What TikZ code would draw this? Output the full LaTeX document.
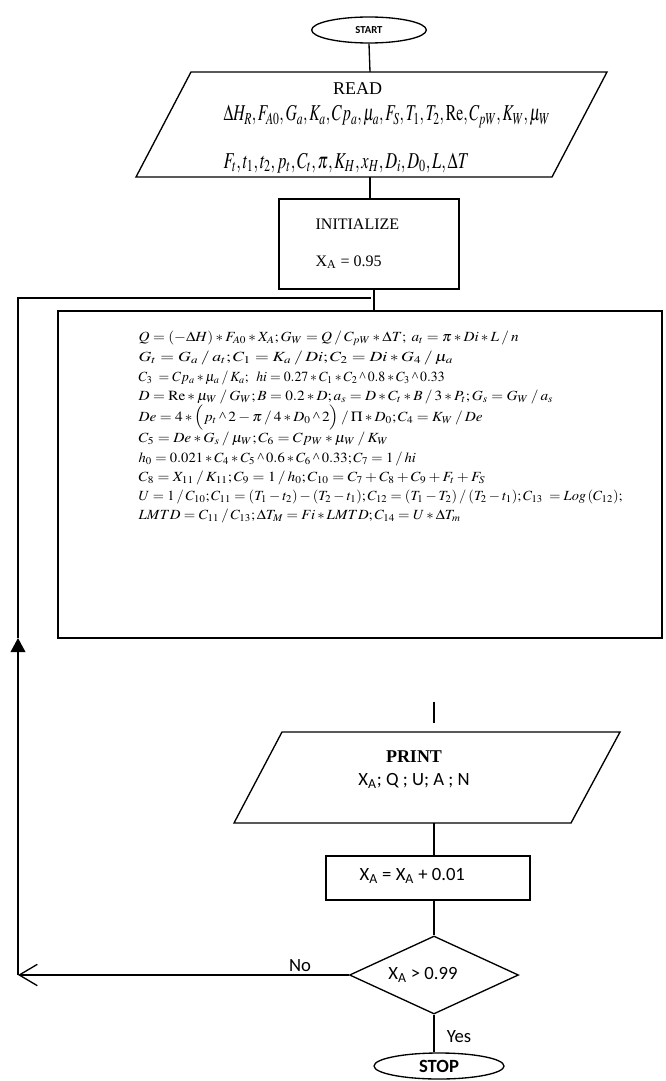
\documentclass[tikz,border=0pt]{standalone}
\usepackage{mathptmx}
\usepackage{fontspec}
\setmainfont{Liberation Serif}
\newfontfamily\calibri{Carlito}
\usetikzlibrary{shapes.geometric,arrows.meta}
\newcommand{\crt}{\mathbin{\mbox{\textasciicircum}}}
\newcommand{\dvd}{\mathbin{/}}
\newcommand{\eqln}[4]{\node[inner sep=0pt,anchor=base west] (#1) at (138,#2) {\fontsize{10.5}{12}\selectfont\resizebox{#3}{\height}{$#4$}};}
\begin{document}
\begin{tikzpicture}[x=0.75pt,y=-0.75pt,line width=1pt,
  box/.style={draw,rectangle,inner sep=0pt},
  term/.style={draw,ellipse,inner sep=0pt},
  lbl/.style={inner sep=0pt,font=\calibri\fontsize{14}{16}\selectfont},
  txt/.style={inner sep=0pt}]
\path[use as bounding box] (0,0) rectangle (666,1081);
% START
\node[term,minimum width=86pt,minimum height=19.5pt,font=\calibri\bfseries\fontsize{8}{9}\selectfont] (start) at (369,30) {START};
% READ
\coordinate (rTL) at (191,72); \coordinate (rTR) at (607,72);
\coordinate (rBR) at (552,177); \coordinate (rBL) at (136,177);
\draw (rTL) -- (rTR) -- (rBR) -- (rBL) -- cycle;
\coordinate (readT) at (370,72); \coordinate (readB) at (370,177);
\node[txt,anchor=base,font=\fontsize{13.5}{15}\selectfont] (readlbl) at (357.5,94) {READ};
\node[txt,anchor=base west] (rl1) at (223,121) {\fontsize{17}{19}\selectfont\resizebox{245pt}{\height}{$\Delta H_{R},F_{A0},G_{a},K_{a},Cp_{a},\mu_{a},F_{S},T_{1},T_{2},\mathrm{Re},C_{pW},K_{W},\mu_{W}$}};
\node[txt,anchor=base west] (rl2) at (223,168) {\fontsize{17}{19}\selectfont\resizebox{184pt}{\height}{$F_{t},t_{1},t_{2},p_{t},C_{t},\pi,K_{H},x_{H},D_{i},D_{0},L,\Delta T$}};
% INITIALIZE
\node[box,minimum width=135pt,minimum height=67.5pt] (init) at (369,244) {};
\node[txt,anchor=base west,font=\fontsize{12}{14}\selectfont] (initlbl) at (315,229) {INITIALIZE};
\node[txt,anchor=base west,font=\fontsize{12}{14}\selectfont] (initval) at (315,266) {X\textsubscript{A} = 0.95};
% calculation box
\node[box,minimum width=453pt,minimum height=245.25pt] (calc) at (360,474.5) {};
\eqln{e1}{341}{285pt}{Q=(-\Delta H)*F_{A0}*X_{A};G_{W}=Q\dvd C_{pW}*\Delta T;\; a_{t}=\pi*Di*L\dvd n}
\eqln{e2}{361}{236pt}{G_{t}=G_{a}\dvd a_{t};C_{1}=K_{a}\dvd Di;C_{2}=Di*G_{4}\dvd\mu_{a}}
\eqln{e3}{381}{229.5pt}{C_{3}\;=Cp_{a}*\mu_{a}\dvd K_{a};\;\; hi=0.27*C_{1}*C_{2}\crt 0.8*C_{3}\crt 0.33}
\eqln{e4}{400}{311pt}{D=\mathrm{Re}*\mu_{W}\dvd G_{W};B=0.2*D;a_{s}=D*C_{t}*B\dvd 3*P_{t};G_{s}=G_{W}\dvd a_{s}}
\eqln{e5}{421}{258pt}{De=4*\Bigl(p_{t}\crt 2-\pi\dvd 4*D_{0}\crt 2\Bigr)\dvd\Pi*D_{0};C_{4}=K_{W}\dvd De}
\eqln{e6}{442}{187.5pt}{C_{5}=De*G_{s}\dvd\mu_{W};C_{6}=Cp_{W}*\mu_{W}\dvd K_{W}}
\eqln{e7}{462}{208pt}{h_{0}=0.021*C_{4}*C_{5}\crt 0.6*C_{6}\crt 0.33;C_{7}=1\dvd hi}
\eqln{e8}{481}{260pt}{C_{8}=X_{11}\dvd K_{11};C_{9}=1\dvd h_{0};C_{10}=C_{7}+C_{8}+C_{9}+F_{t}+F_{S}}
\eqln{e9}{500}{363pt}{U=1\dvd C_{10};C_{11}=(T_{1}-t_{2})-(T_{2}-t_{1});C_{12}=(T_{1}-T_{2})\dvd(T_{2}-t_{1});C_{13}\;=\mathit{Log}\,(C_{12});}
\eqln{e10}{519}{241.5pt}{LMTD=C_{11}\dvd C_{13};\Delta T_{M}=Fi*LMTD;C_{14}=U*\Delta T_{m}}
% loop
\coordinate (loopB) at (18,975); \coordinate (arrowT) at (18,638);
\coordinate (loopT) at (18,298); \coordinate (loopE) at (371,298);
% free segment
\coordinate (segA) at (434,702); \coordinate (segB) at (434,723);
% PRINT
\coordinate (pTL) at (282,732); \coordinate (pTR) at (620,732);
\coordinate (pBR) at (571,823); \coordinate (pBL) at (234,823);
\draw (pTL) -- (pTR) -- (pBR) -- (pBL) -- cycle;
\coordinate (printB) at (434,823);
\node[txt,font=\bfseries\fontsize{13.5}{15}\selectfont] (printlbl) at (414,757) {PRINT};
\node[lbl] (printval) at (414,781) {X\textsubscript{A}; Q ; U; A ; N};
% increment
\node[box,minimum width=153pt,minimum height=33pt] (inc) at (428,878) {};
\node[lbl,anchor=west] (inclbl) at (359,876) {X\textsubscript{A} = X\textsubscript{A} + 0.01};
% decision
\node[draw,diamond,inner sep=0pt,minimum width=126.75pt,minimum height=58.5pt] (dec) at (434,975) {};
\node[lbl] (declbl) at (423,975) {X\textsubscript{A} > 0.99};
% STOP
\node[term,minimum width=97.5pt,minimum height=19.5pt,font=\calibri\bfseries\fontsize{14}{16}\selectfont] (stop) at (439,1066) {STOP};
% connectors
\draw (start.south) -- (readT);
\draw (readB) -- (readB |- init.north);
\draw ([xshift=3.75pt]init.south) -- ([xshift=3.75pt]init.south |- calc.north);
\draw[-{Triangle[length=10.5pt,width=11pt]}] (loopB) -- (arrowT);
\draw (arrowT) -- (loopT) -- (loopE);
\draw (segA) -- (segB);
\draw (printB) -- (printB |- inc.north);
\draw (dec.north |- inc.south) -- (dec.north);
\draw[-{Straight Barb[length=13.5pt,width=16pt]}] (dec.west) -- (loopB);
\node[lbl] (nolbl) at (300,966) {No};
\draw (dec.south) -- (dec.south |- stop.north);
\node[lbl] (yeslbl) at (459,1037) {Yes};
\end{tikzpicture}
\end{document}
